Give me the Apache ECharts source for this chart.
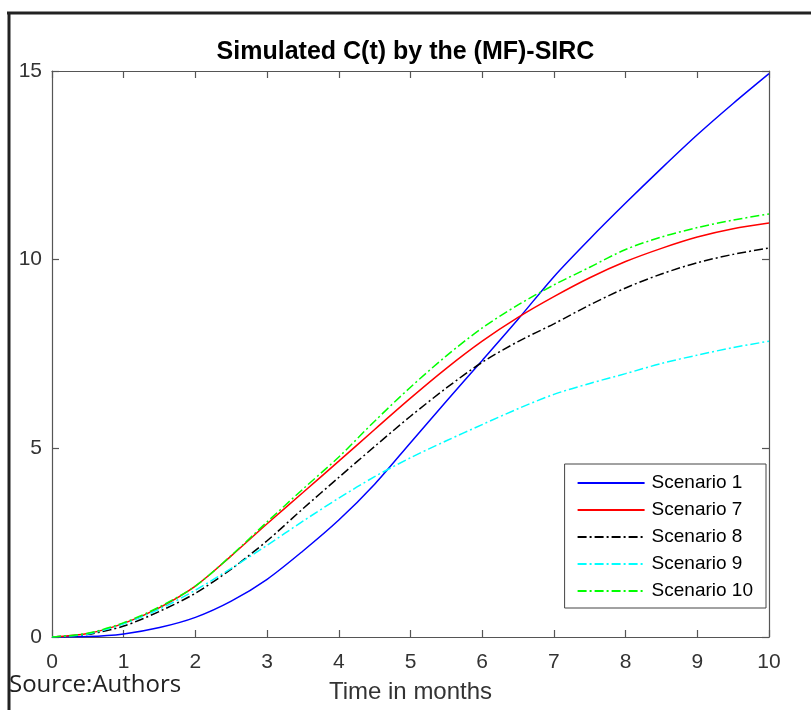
<!DOCTYPE html>
<html>
<head>
<meta charset="utf-8">
<script src="https://cdn.jsdelivr.net/npm/echarts@6/dist/echarts.min.js"></script>
<style>
  html, body { margin: 0; padding: 0; background: #fff; }
  #main { width: 811px; height: 710px; }
</style>
</head>
<body>
<div id="main"></div>
<script>
// time in months
var months = [0, 0.5, 1, 1.5, 2, 2.5, 3, 3.5, 4, 4.5, 5, 5.5, 6, 6.5, 7, 7.5, 8, 8.5, 9, 9.5, 10];

// C(t) for each scenario
var scenario1  = [0, 0.01, 0.08, 0.25, 0.52, 0.95, 1.53, 2.28, 3.10, 4.05, 5.15, 6.25, 7.33, 8.42, 9.55, 10.55, 11.50, 12.42, 13.31, 14.14, 14.93];
var scenario7  = [0, 0.09, 0.36, 0.78, 1.35, 2.15, 3.00, 3.83, 4.66, 5.50, 6.33, 7.12, 7.84, 8.47, 9.02, 9.52, 9.95, 10.30, 10.60, 10.82, 10.97];
var scenario8  = [0, 0.07, 0.29, 0.68, 1.16, 1.80, 2.55, 3.40, 4.23, 5.05, 5.85, 6.60, 7.28, 7.83, 8.30, 8.80, 9.25, 9.62, 9.92, 10.14, 10.31];
var scenario9  = [0, 0.08, 0.35, 0.74, 1.24, 1.82, 2.43, 3.07, 3.68, 4.25, 4.75, 5.20, 5.63, 6.05, 6.43, 6.72, 6.98, 7.25, 7.47, 7.67, 7.84];
var scenario10 = [0, 0.10, 0.38, 0.80, 1.35, 2.16, 3.05, 3.92, 4.77, 5.72, 6.62, 7.45, 8.19, 8.80, 9.33, 9.80, 10.27, 10.60, 10.85, 11.05, 11.21];

var xTicks = [0, 10, 1];   // min, max, step
var yTicks = [0, 15, 5];

var names  = ['Scenario 1', 'Scenario 7', 'Scenario 8', 'Scenario 9', 'Scenario 10'];
var values = [scenario1, scenario7, scenario8, scenario9, scenario10];
var colors = ['#0000ff', '#ff0000', '#000000', '#00ffff', '#00ff00'];
var dashes = ['solid', 'solid', [9, 3, 2, 3], [9, 3, 2, 3], [9, 3, 2, 3]];

var axisColor = '#555';
var labelFont = 'Liberation Sans, Helvetica, Arial, sans-serif';

function pairs(ys) {
    return months.map(function (m, i) { return [m, ys[i]]; });
}

var series = names.map(function (n, i) {
    return {
        name: n,
        type: 'line',
        data: pairs(values[i]),
        smooth: 0.3,
        symbol: 'none',
        color: colors[i],
        lineStyle: { color: colors[i], width: 1.5, type: dashes[i] },
        xAxisIndex: 0,
        yAxisIndex: 0,
        z: 3
    };
});

// box around the plot: mirror axes on top and right with ticks, no labels
function boxAxis(pos, t) {
    return {
        type: 'value', position: pos, min: t[0], max: t[1], interval: t[2],
        axisLine: { show: true, onZero: false, lineStyle: { color: axisColor, width: 1.2 } },
        axisTick: { show: true, inside: true, length: 7, lineStyle: { color: axisColor, width: 1.2 } },
        axisLabel: { show: false },
        splitLine: { show: false }
    };
}

var chart = echarts.init(document.getElementById('main'));
chart.setOption({
    backgroundColor: '#fff',
    animation: false,
    title: {
        text: 'Simulated C(t) by the (MF)-SIRC',
        left: 'center',
        top: 35,
        textStyle: { fontFamily: labelFont, fontSize: 25, fontWeight: 'bold', color: '#000' }
    },
    grid: { left: 52, top: 71, right: 42, bottom: 73, containLabel: false },
    legend: {
        orient: 'vertical',
        right: 45,
        top: 464,
        data: names,
        itemWidth: 67,
        itemHeight: 14,
        itemGap: 7,
        padding: [9, 13, 7, 12],
        backgroundColor: '#fff',
        borderColor: '#444',
        borderWidth: 1,
        itemStyle: { opacity: 0 },
        textStyle: { fontFamily: labelFont, fontSize: 19, color: '#000', lineHeight: 20, padding: [0, 0, 0, 2] },
        z: 10
    },
    xAxis: [{
        type: 'value', position: 'bottom', min: xTicks[0], max: xTicks[1], interval: xTicks[2],
        name: 'Time in months',
        nameLocation: 'middle',
        nameGap: 43,
        nameTextStyle: { fontFamily: labelFont, fontSize: 24, color: '#333' },
        axisLine: { show: true, onZero: false, lineStyle: { color: axisColor, width: 1.2 } },
        axisTick: { show: true, inside: true, length: 7, lineStyle: { color: axisColor, width: 1.2 } },
        axisLabel: { fontFamily: labelFont, fontSize: 21, color: '#333', margin: 15 },
        splitLine: { show: false }
    }, boxAxis('top', xTicks)],
    yAxis: [{
        type: 'value', position: 'left', min: yTicks[0], max: yTicks[1], interval: yTicks[2],
        axisLine: { show: true, onZero: false, lineStyle: { color: axisColor, width: 1.2 } },
        axisTick: { show: true, inside: true, length: 7, lineStyle: { color: axisColor, width: 1.2 } },
        axisLabel: { fontFamily: labelFont, fontSize: 21, color: '#333', margin: 10 },
        splitLine: { show: false }
    }, boxAxis('right', yTicks)],
    graphic: [
        // outer frame of the figure (only left and top edges are visible)
        { type: 'line', shape: { x1: 9, y1: 13, x2: 9, y2: 710 }, style: { stroke: '#222', lineWidth: 3 } },
        { type: 'line', shape: { x1: 7, y1: 13, x2: 811, y2: 13 }, style: { stroke: '#222', lineWidth: 3 } },
        {
            type: 'text', left: 9, top: 673,
            style: { text: 'Source:Authors', fontFamily: 'Open Sans, Noto Sans, sans-serif', fontSize: 24, fill: '#222' }
        }
    ],
    series: series
});
</script>
</body>
</html>
